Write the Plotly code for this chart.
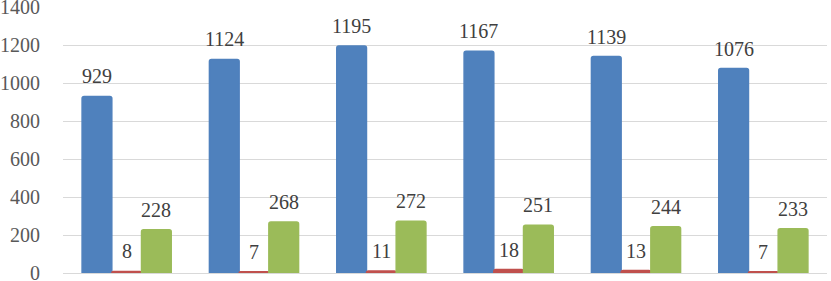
import plotly.graph_objects as go

categories = [0, 1, 2, 3, 4, 5]
series_blue = [929, 1124, 1195, 1167, 1139, 1076]
series_red = [8, 7, 11, 18, 13, 7]
series_green = [228, 268, 272, 251, 244, 233]
y_ticks = [0, 200, 400, 600, 800, 1000, 1200, 1400]

colors = ["#4F81BD", "#C0504D", "#9BBB59"]
all_series = [series_blue, series_red, series_green]

FONT = "serif"

bargap = 0.3
bw = (1 - bargap) / 3
offsets = [-bw, 0, bw]

fig = go.Figure()
annotations = []
for s, c, off in zip(all_series, colors, offsets):
    fig.add_trace(go.Bar(x=categories, y=s, marker=dict(color=c, line=dict(color=c, width=1.5)),
                         showlegend=False, hoverinfo="skip"))
    for xi, v in zip(categories, s):
        annotations.append(dict(x=xi + off, y=v, text=str(v), showarrow=False,
                                xref="x", yref="y", yanchor="bottom", yshift=7,
                                font=dict(family=FONT, size=20, color="#404040")))

fig.update_layout(
    width=831, height=281,
    margin=dict(l=63, r=4, t=7, b=8, autoexpand=False),
    font=dict(family=FONT, size=19, color="#595959"),
    barmode="group", bargap=bargap, bargroupgap=0,
    barcornerradius=2,
    plot_bgcolor="white", paper_bgcolor="white",
    annotations=annotations,
    xaxis=dict(range=[-0.5, 5.5], showticklabels=False, showgrid=False, zeroline=False,
               showline=False, ticks=""),
    yaxis=dict(range=[0, 1400], tickmode="array", tickvals=y_ticks,
               ticktext=[str(t) for t in y_ticks], showgrid=True, gridcolor="#D9D9D9",
               gridwidth=1, zeroline=True, zerolinecolor="#D9D9D9", zerolinewidth=1,
               tickfont=dict(family=FONT, size=20, color="#595959"),
               ticklabeloverflow="allow", automargin=False,
               ticks="outside", ticklen=18, tickcolor="rgba(0,0,0,0)"),
)
fig.write_html("out.html", config={"displayModeBar": False},
               post_script="document.body.style.margin='0';document.body.style.overflow='hidden';")
